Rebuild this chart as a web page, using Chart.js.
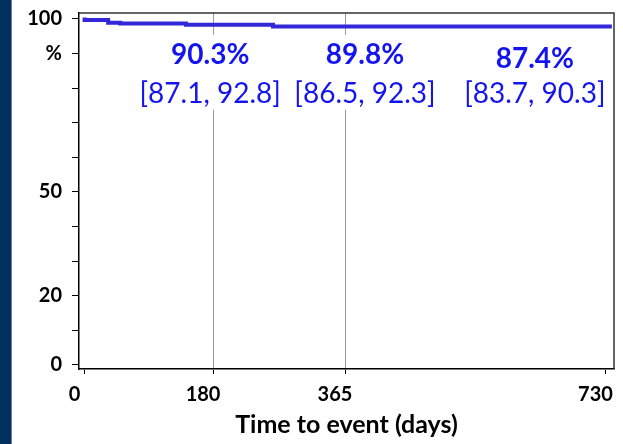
<!DOCTYPE html>
<html>
<head>
<meta charset="utf-8">
<script src="https://cdn.jsdelivr.net/npm/chart.js@4/dist/chart.umd.min.js"></script>
<style>
  html, body { margin: 0; padding: 0; background: #fff; }
  #wrap { width: 623px; height: 444px; }
</style>
</head>
<body>
<div id="wrap"><canvas id="myChart" width="623" height="444"></canvas></div>
<script>
// survival curve (days, %)
const days = [0, 33, 50, 142, 264, 680, 739];
const survival = [100.4, 99.7, 98.9, 98.7, 98.3, 97.8, 97.8];

const xTicks = [0, 180, 365, 730];
const xGridAt = [180, 365];
const yTicks = [0, 10, 20, 30, 40, 50, 60, 70, 80, 90, 100];
const yLabels = { 0: '0', 20: '20', 50: '50', 90: '%', 100: '100' };

// estimates shown on the plot
const estX = [176, 393, 631];
const estPct = ['90.3%', '89.8%', '87.4%'];
const estPctY = [89.6, 89.6, 88.4];
const estCI = ['[87.1, 92.8]', '[86.5, 92.3]', '[83.7, 90.3]'];
const estCIY = [78.4, 78.4, 78.4];

const FONT = 'Lato, "Open Sans", sans-serif';
const BLUE = '#1414ee';

const pagePlugin = {
    id: 'page',
    beforeDraw(chart) {
        const c = chart.ctx;
        c.save();
        c.fillStyle = '#fff';
        c.fillRect(0, 0, chart.width, chart.height);
        c.fillStyle = '#01315f';
        c.fillRect(0, 0, 11, chart.height);
        c.fillStyle = '#6a86a8';
        c.fillRect(11, 0, 1, chart.height);
        c.restore();
    },
    afterDraw(chart) {
        const c = chart.ctx;
        const a = chart.chartArea;
        const xs = chart.scales.x, ys = chart.scales.y;
        c.save();
        // frame top / right
        c.strokeStyle = '#333';
        c.lineWidth = 1.5;
        c.beginPath();
        c.moveTo(a.left, a.top);
        c.lineTo(a.right, a.top);
        c.lineTo(a.right, a.bottom);
        c.stroke();
        // estimate labels
        c.textAlign = 'center';
        c.textBaseline = 'middle';
        for (let i = 0; i < estX.length; i++) {
            const px = xs.getPixelForValue(estX[i]);
            const p1 = ys.getPixelForValue(estPctY[i]);
            const p2 = ys.getPixelForValue(estCIY[i]);
            c.font = 'bold 28px ' + FONT;
            const w1 = c.measureText(estPct[i]).width;
            c.font = '28px ' + FONT;
            const w2 = c.measureText(estCI[i]).width;
            const w = Math.max(w1, w2) + 4;
            c.fillStyle = '#fff';
            c.fillRect(px - w / 2, p1 - 20, w, p2 - p1 + 36);
            c.fillStyle = BLUE;
            c.font = 'bold 28px ' + FONT;
            c.fillText(estPct[i], px, p1);
            c.font = '28px ' + FONT;
            c.fillText(estCI[i], px, p2);
        }
        c.restore();
    }
};

const ctx = document.getElementById('myChart').getContext('2d');
const myChart = new Chart(ctx, {
    type: 'line',
    data: {
        datasets: [{
            data: days.map((d, i) => ({ x: d, y: survival[i] })),
            borderColor: '#3228d8',
            borderWidth: 4,
            pointRadius: 0,
            stepped: 'after',
            fill: false
        }]
    },
    options: {
        responsive: false,
        animation: false,
        layout: { padding: { top: 13, right: 9, bottom: 0, left: 0 } },
        plugins: { legend: { display: false }, tooltip: { enabled: false } },
        scales: {
            x: {
                type: 'linear',
                min: -7.85,
                max: 742,
                afterBuildTicks: (s) => { s.ticks = xTicks.map(v => ({ value: v })); },
                afterFit: (s) => { s.height = 75; s.paddingLeft = 0; s.paddingRight = 0; },
                grid: {
                    color: (c) => (c.tick && xGridAt.includes(c.tick.value)) ? '#9a9a9a' : 'rgba(0,0,0,0)',
                    tickColor: '#000',
                    tickLength: 5,
                    lineWidth: 1
                },
                border: { color: '#000', width: 1.5 },
                ticks: {
                    autoSkip: false,
                    maxRotation: 0,
                    labelOffset: -10,
                    padding: 9,
                    color: '#000',
                    font: { family: FONT, size: 20, weight: 'bold' },
                    callback: (v) => String(v)
                },
                title: {
                    display: true,
                    text: 'Time to event (days)',
                    color: '#000',
                    font: { family: FONT, size: 25, weight: 'bold' },
                    padding: { top: 2, bottom: 4 }
                }
            },
            y: {
                type: 'linear',
                min: -1.16,
                max: 101.7,
                afterBuildTicks: (s) => { s.ticks = yTicks.map(v => ({ value: v })); },
                afterFit: (s) => { s.width = 79; s.paddingTop = 0; s.paddingBottom = 0; },
                grid: {
                    color: 'rgba(0,0,0,0)',
                    tickColor: '#000',
                    tickLength: 7
                },
                border: { color: '#000', width: 1.5 },
                ticks: {
                    autoSkip: false,
                    padding: 10,
                    color: '#000',
                    font: { family: FONT, size: 20, weight: 'bold' },
                    callback: (v) => (yLabels[v] !== undefined ? yLabels[v] : '')
                }
            }
        }
    },
    plugins: [pagePlugin]
});
</script>
</body>
</html>
